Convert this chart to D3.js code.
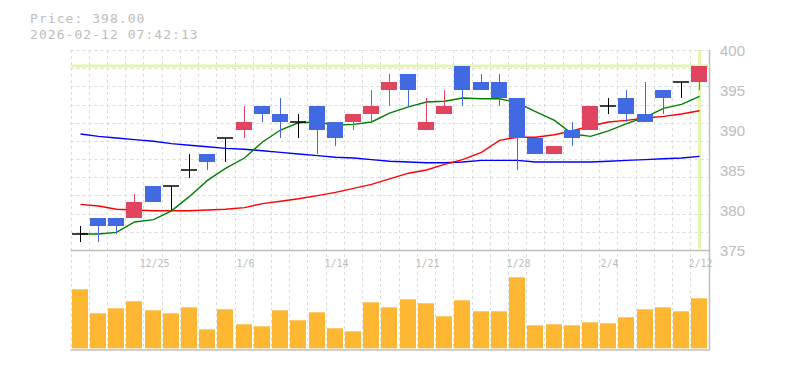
<!DOCTYPE html>
<html>
<head>
<meta charset="utf-8">
<script src="https://cdn.jsdelivr.net/npm/d3@7/dist/d3.min.js"></script>
<style>
  body { margin: 0; background: #fff; }
</style>
</head>
<body>
<script>
//Data
var dates = ["12/19","12/22","12/23","12/24","12/25","12/26","12/29","12/30","1/5","1/6",
             "1/7","1/8","1/9","1/13","1/14","1/15","1/16","1/19","1/20","1/21",
             "1/22","1/23","1/26","1/27","1/28","1/29","1/30","2/2","2/3","2/4",
             "2/5","2/6","2/9","2/10","2/12"];
var opens  = [377,379,379,379,383,383,385,387,389,390,393,392,391,393,391,391,392,395,397,390,
              392,398,396,396,394,389,387,390,390,393,394,392,395,396,396];
var highs  = [378,379,379,382,383,383,387,387,389,393,393,394,392,393,391,392,395,397,397,394,
              395,398,397,397,394,389,388,391,393,394,395,396,395,396,398];
var lows   = [376,376,377,379,381,380,384,385,386,389,391,389,389,387,388,390,391,393,393,390,
              392,393,395,393,385,387,387,388,390,392,391,391,392,394,395];
var closes = [377,378,378,381,381,383,385,386,389,391,392,391,391,390,389,392,393,396,395,391,
              393,395,395,394,389,387,388,389,393,393,392,391,394,396,398];
var ma5  = [377.0,377.0,377.2,378.5,378.8,379.9,381.7,383.7,385.2,386.5,388.5,390.0,390.9,391.0,390.6,
            390.7,391.0,392.1,392.9,393.5,393.6,394.0,393.9,393.9,393.4,392.3,391.2,389.5,389.2,389.9,
            390.8,391.6,392.7,393.2,394.2];
var ma25 = [380.7,380.5,380.1,380.0,379.9,379.9,379.9,380.0,380.1,380.3,380.8,381.1,381.4,381.8,382.2,
            382.7,383.2,383.9,384.6,385.0,385.7,386.3,387.2,388.7,389.1,389.1,389.4,389.9,390.5,391.0,
            391.2,391.5,391.7,392.0,392.4];
var ma75 = [389.5,389.2,389.0,388.8,388.6,388.3,388.1,387.9,387.7,387.6,387.4,387.2,387.0,386.8,386.6,
            386.5,386.3,386.1,386.0,385.9,385.9,386.0,386.2,386.2,386.2,386.0,386.0,386.0,386.0,386.1,
            386.2,386.3,386.4,386.5,386.7];
var volumes = [590,350,400,470,380,350,410,190,390,240,220,380,280,360,200,170,460,410,490,450,
               320,480,370,370,710,230,240,230,260,250,310,390,410,370,500];
var priceTicks = [375,380,385,390,395,400];
var dateTicks = ["12/25","1/6","1/14","1/21","1/28","2/4","2/12"];
var lastPrice = 398;
var stamp = "2026-02-12 07:42:13";

//Define size
var width = 785, height = 370;
var plot = {left: 70.5, right: 708.5, top: 50, bottom: 250, volBottom: 350};

var svg = d3.select("body")
    .append("svg")
    .attr("width", width)
    .attr("height", height);

//Scales
var x = d3.scaleBand().domain(dates).range([plot.left, plot.right]).padding(0);
var y = d3.scaleLinear().domain([375, 400]).range([plot.bottom, plot.top]);
var yVol = d3.scaleLinear().domain([0, 1000]).range([348.3, 248.3]);
var gridY = d3.scaleLinear().domain([0, 11]).range([plot.top, plot.bottom]);
var bw = x.bandwidth();
function cx(d) { return Math.round(x(d) + bw / 2) + 0.5; }

//Grid
var grid = svg.append("g")
    .attr("stroke", "#dcdcdc")
    .attr("stroke-dasharray", "3,3");
grid.selectAll("line.h")
    .data(d3.range(0, 11))
    .enter().append("line")
    .attr("x1", plot.left).attr("x2", plot.right)
    .attr("y1", function(d) { return Math.round(gridY(d)) + 0.5; })
    .attr("y2", function(d) { return Math.round(gridY(d)) + 0.5; });
grid.selectAll("line.v")
    .data(dates)
    .enter().append("line")
    .attr("x1", function(d) { return Math.round(x(d)) + 0.5; })
    .attr("x2", function(d) { return Math.round(x(d)) + 0.5; })
    .attr("y1", plot.top).attr("y2", plot.volBottom);

//Frame lines
var frame = svg.append("g").attr("stroke", "#bfbfbf").attr("stroke-width", 1.5);
frame.append("line")
    .attr("x1", plot.left).attr("x2", plot.right + 1)
    .attr("y1", plot.bottom + 0.5).attr("y2", plot.bottom + 0.5);
frame.append("line")
    .attr("x1", plot.left).attr("x2", plot.right + 1)
    .attr("y1", plot.volBottom).attr("y2", plot.volBottom);
frame.append("line")
    .attr("x1", plot.right + 1).attr("x2", plot.right + 1)
    .attr("y1", plot.top).attr("y2", plot.volBottom);

//Last price markers
var last = dates[dates.length - 1];
svg.append("line")
    .attr("x1", plot.left).attr("x2", plot.right + 1)
    .attr("y1", y(lastPrice)).attr("y2", y(lastPrice))
    .attr("stroke", "#e3f5b0").attr("stroke-width", 3);
svg.append("line")
    .attr("x1", cx(last)).attr("x2", cx(last))
    .attr("y1", plot.top).attr("y2", plot.bottom - 1)
    .attr("stroke", "#e3f5b0").attr("stroke-width", 3);

//Volume bars
svg.append("g")
    .selectAll("rect")
    .data(volumes)
    .enter().append("rect")
    .attr("x", function(d, i) { return cx(dates[i]) - 8.5; })
    .attr("width", 16)
    .attr("y", function(d) { return yVol(d); })
    .attr("height", function(d) { return yVol(0) - yVol(d); })
    .attr("fill", "#fdb733");

//Moving averages
var line = d3.line()
    .x(function(d, i) { return cx(dates[i]); })
    .y(function(d) { return y(d); });
[[ma75, "#0000ff"], [ma25, "#ff0000"], [ma5, "#008000"]].forEach(function(s) {
  svg.append("path")
      .datum(s[0])
      .attr("d", line)
      .attr("fill", "none")
      .attr("stroke", s[1])
      .attr("stroke-width", 1.4);
});

//Candles
function candleColor(i) {
  if (closes[i] > opens[i]) return "#e0445e";
  if (closes[i] < opens[i]) return "#4169e1";
  return "#000";
}
var candle = svg.append("g")
    .selectAll("g")
    .data(dates)
    .enter().append("g");
candle.append("line")
    .attr("x1", function(d) { return cx(d); })
    .attr("x2", function(d) { return cx(d); })
    .attr("y1", function(d, i) { return y(highs[i]); })
    .attr("y2", function(d, i) { return y(lows[i]); })
    .attr("stroke", function(d, i) { return candleColor(i); });
candle.filter(function(d, i) { return opens[i] !== closes[i]; })
    .append("rect")
    .attr("x", function(d) { return cx(d) - 8.5; })
    .attr("width", 16)
    .attr("y", function(d) { var i = dates.indexOf(d); return y(Math.max(opens[i], closes[i])); })
    .attr("height", function(d) { var i = dates.indexOf(d); return Math.abs(y(opens[i]) - y(closes[i])); })
    .attr("fill", function(d) { return candleColor(dates.indexOf(d)); });
candle.filter(function(d, i) { return opens[i] === closes[i]; })
    .append("line")
    .attr("x1", function(d) { return cx(d) - 8.5; })
    .attr("x2", function(d) { return cx(d) + 7.5; })
    .attr("y1", function(d) { return y(closes[dates.indexOf(d)]); })
    .attr("y2", function(d) { return y(closes[dates.indexOf(d)]); })
    .attr("stroke", "#000")
    .attr("stroke-width", 1.5);

//Price labels
svg.append("g")
    .selectAll("text")
    .data(priceTicks)
    .enter().append("text")
    .attr("x", 720)
    .attr("y", function(d) { return y(d) + 5.5; })
    .attr("font-family", "Liberation Sans, Arial, sans-serif")
    .attr("font-size", 15)
    .attr("fill", "#bdbdbd")
    .text(function(d) { return d; });

//Date labels
svg.append("g")
    .selectAll("text")
    .data(dateTicks)
    .enter().append("text")
    .attr("x", function(d) { return cx(d) + 1; })
    .attr("y", 267)
    .attr("text-anchor", "middle")
    .attr("font-family", "DejaVu Sans Mono, monospace")
    .attr("font-size", 10)
    .attr("fill", "#bdbdbd")
    .text(function(d) { return d; });

//Header text
var head = svg.append("g")
    .attr("font-family", "DejaVu Sans Mono, monospace")
    .attr("font-size", 13)
    .attr("letter-spacing", 1.05)
    .attr("fill", "#bdbdbd");
head.append("text").attr("x", 30).attr("y", 23).text("Price: " + lastPrice.toFixed(2));
head.append("text").attr("x", 30).attr("y", 38.5).text(stamp);
</script>
</body>
</html>
